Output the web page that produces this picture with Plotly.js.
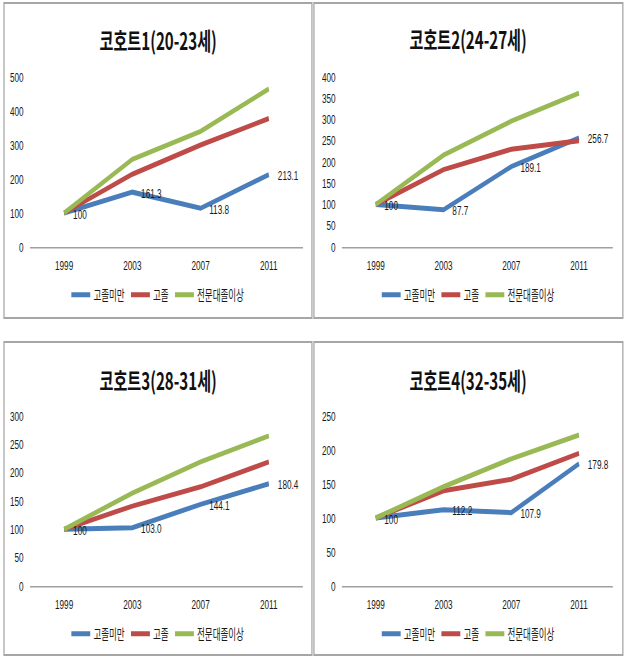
<!DOCTYPE html>
<html>
<head>
<meta charset="utf-8">
<script src="https://cdn.plot.ly/plotly-3.0.1.min.js"></script>
<style>
  html, body { margin: 0; padding: 0; background: #ffffff; overflow: hidden; width: 627px; height: 661px; }
  #chart { width: 995px; height: 661px; transform: scaleX(0.63); transform-origin: 0 0; }
</style>
</head>
<body>
<div id="chart"></div>
<script>
// ---- data ----
const years = ['1999', '2003', '2007', '2011'];
const seriesNames = ['고졸미만', '고졸', '전문대졸이상'];
const panelTitles = ['코호트1(20-23세)', '코호트2(24-27세)', '코호트3(28-31세)', '코호트4(32-35세)'];

const c1Below = [100, 161.3, 113.8, 213.1];
const c1HighSchool = [100, 214, 300, 378];
const c1College = [100, 258, 340, 465];
const c1Labels = ['100', '161.3', '113.8', '213.1'];

const c2Below = [100, 87.7, 189.1, 256.7];
const c2HighSchool = [100, 182, 230, 250];
const c2College = [100, 216, 296, 362];
const c2Labels = ['100', '87.7', '189.1', '256.7'];

const c3Below = [100, 103.0, 144.1, 180.4];
const c3HighSchool = [100, 141, 175, 219];
const c3College = [100, 164, 219, 265];
const c3Labels = ['100', '103.0', '144.1', '180.4'];

const c4Below = [100, 112.2, 107.9, 179.8];
const c4HighSchool = [100, 140, 157, 195];
const c4College = [100, 146, 187, 222];
const c4Labels = ['100', '112.2', '107.9', '179.8'];

const yMax = [500, 400, 300, 250];
const yStep = [100, 50, 50, 50];

// ---- build ----
const W = 627, H = 661;           // visible picture size
const colors = ['#4A7EBB', '#BE4B48', '#98B954'];
const panelData = [
  [c1Below, c1HighSchool, c1College, c1Labels],
  [c2Below, c2HighSchool, c2College, c2Labels],
  [c3Below, c3HighSchool, c3College, c3Labels],
  [c4Below, c4HighSchool, c4College, c4Labels]
];

// panel frames in picture pixels: [left, top, right, bottom]
const frames = [[4, 3, 312, 318], [314, 3, 623, 318], [4, 342, 312, 655], [314, 342, 623, 655]];
// plot areas in picture pixels: [left, right, top, bottom]
const plots = [[30, 303, 77, 247], [342, 613, 77, 247], [30, 303, 416, 586], [342, 613, 416, 586]];
const titleY = [39, 38, 380, 379];
const legendY = [295, 295, 634, 634];

const px = v => v / W;
const py = v => 1 - v / H;

const traces = [];
const layout = {
  width: 995, height: 661,
  margin: { l: 0, r: 0, t: 0, b: 0 },
  paper_bgcolor: '#ffffff', plot_bgcolor: '#ffffff',
  showlegend: true,
  annotations: [], shapes: []
};

for (let p = 0; p < 4; p++) {
  const n = p === 0 ? '' : String(p + 1);
  const xa = 'x' + n, ya = 'y' + n, lg = 'legend' + n;
  const [l, r, t, b] = plots[p];
  const fr = frames[p];
  layout['xaxis' + n] = {
    type: 'category', categoryorder: 'array', categoryarray: years,
    range: [-0.5, 3.5], domain: [px(l), px(r)], anchor: ya,
    showline: true, linecolor: '#a0a0a0', linewidth: 1.5,
    showgrid: false, zeroline: false, ticks: '',
    ticklabelstandoff: 6,
    tickfont: { family: 'Liberation Sans, Arial, sans-serif', size: 13, color: '#1a1a1a' },
    fixedrange: true
  };
  layout['yaxis' + n] = {
    range: [0, yMax[p]], dtick: yStep[p], tick0: 0, domain: [py(b), py(t)], anchor: xa,
    showline: false, showgrid: false, zeroline: false, ticks: '',
    ticklabelstandoff: 9,
    tickfont: { family: 'Liberation Sans, Arial, sans-serif', size: 13, color: '#1a1a1a' },
    fixedrange: true
  };
  layout[lg] = {
    orientation: 'h', x: px((fr[0] + fr[2]) / 2), y: py(legendY[p]),
    xanchor: 'center', yanchor: 'middle',
    font: { family: 'Noto Sans CJK KR, sans-serif', size: 13.5, color: '#1a1a1a' },
    bgcolor: 'rgba(0,0,0,0)', itemclick: false, itemdoubleclick: false
  };
  layout.shapes.push({
    type: 'rect', xref: 'paper', yref: 'paper', layer: 'below',
    x0: px(fr[0]), x1: px(fr[2]), y0: py(fr[3]), y1: py(fr[1]),
    line: { color: '#a6a6a6', width: 2 }, fillcolor: 'rgba(0,0,0,0)'
  });
  layout.annotations.push({
    xref: 'paper', yref: 'paper', x: px((fr[0] + fr[2]) / 2), y: py(titleY[p]),
    xanchor: 'center', yanchor: 'middle', showarrow: false,
    text: panelTitles[p],
    font: { family: 'Noto Sans CJK KR, sans-serif', size: 24, weight: 'bold', color: '#111111' }
  });
  const d = panelData[p];
  for (let s = 0; s < 3; s++) {
    traces.push({
      type: 'scatter', mode: 'lines', x: years, y: d[s],
      name: seriesNames[s], xaxis: xa, yaxis: ya, legend: lg,
      line: { color: colors[s], width: 5 }, hoverinfo: 'skip'
    });
  }
  // data labels for the first series
  for (let i = 0; i < years.length; i++) {
    layout.annotations.push({
      xref: xa, yref: ya, x: years.indexOf(years[i]), y: d[0][i], text: d[3][i],
      xanchor: 'left', yanchor: 'middle', xshift: 12, yshift: -1, showarrow: false,
      font: { family: 'Liberation Sans, Arial, sans-serif', size: 13, color: '#1a1a1a' }
    });
  }
}

Plotly.newPlot('chart', traces, layout, { staticPlot: true, displayModeBar: false });
</script>
</body>
</html>
